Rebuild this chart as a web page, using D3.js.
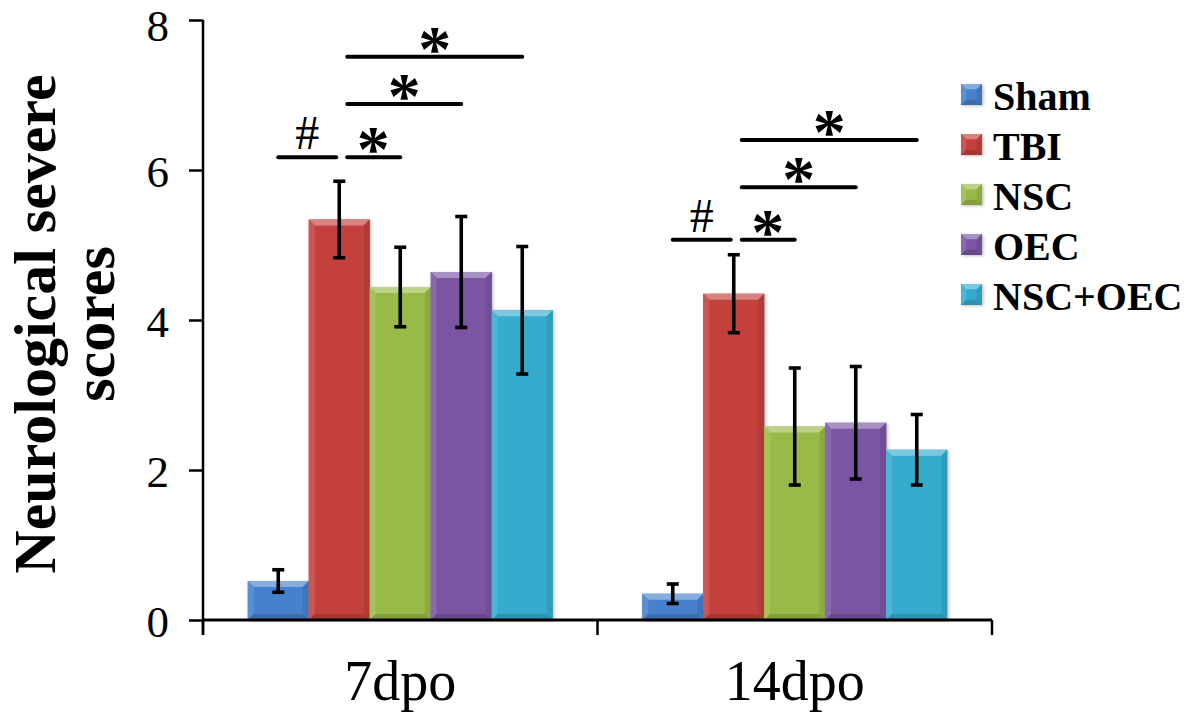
<!DOCTYPE html>
<html>
<head>
<meta charset="utf-8">
<script src="https://cdn.jsdelivr.net/npm/d3@7/dist/d3.min.js"></script>
<style>
  html, body { margin: 0; padding: 0; background: #fff; }
  svg { display: block; }
  text { font-family: "Liberation Serif", "Times New Roman", Tinos, serif; fill: #000; }
</style>
</head>
<body>
<svg id="chart" width="1200" height="715"></svg>
<script>
// ---------- data ----------
const categories = ["7dpo", "14dpo"];
const seriesNames = ["Sham", "TBI", "NSC", "OEC", "NSC+OEC"];
const seriesColors = ["#4680cc", "#c3403c", "#99ba48", "#7955a3", "#34abcd"];
// mean values per series, ordered as categories
const shamValues   = [0.52, 0.35];
const tbiValues    = [5.34, 4.35];
const nscValues    = [4.44, 2.58];
const oecValues    = [4.64, 2.63];
const comboValues  = [4.13, 2.27];
// error (SD) per series
const shamErrors   = [0.15, 0.13];
const tbiErrors    = [0.51, 0.52];
const nscErrors    = [0.53, 0.78];
const oecErrors    = [0.74, 0.75];
const comboErrors  = [0.85, 0.47];
const yTicks = [0, 2, 4, 6, 8];
// significance annotations: category, from series, to series, level (score units), symbol
const sigCategory = ["7dpo", "7dpo", "7dpo", "7dpo", "14dpo", "14dpo", "14dpo", "14dpo"];
const sigFrom     = ["Sham", "TBI", "TBI", "TBI", "Sham", "TBI", "TBI", "TBI"];
const sigTo       = ["TBI", "NSC", "OEC", "NSC+OEC", "TBI", "NSC", "OEC", "NSC+OEC"];
const sigLevel    = [6.17, 6.17, 6.88, 7.51, 5.07, 5.07, 5.77, 6.40];
const sigSymbol   = ["#", "*", "*", "*", "#", "*", "*", "*"];

const valueTable = [shamValues, tbiValues, nscValues, oecValues, comboValues];
const errorTable = [shamErrors, tbiErrors, nscErrors, oecErrors, comboErrors];

// ---------- layout ----------
const svg = d3.select("#chart");
const x0 = d3.scaleBand().domain(categories).range([203, 992]).paddingInner(0).paddingOuter(0);
const groupPad = (x0.bandwidth() - 305) / 2;
const x1 = d3.scaleBand().domain(seriesNames).range([groupPad, x0.bandwidth() - groupPad]).padding(0);
const y = d3.scaleLinear().domain([0, 8]).range([620, 20]);
const color = d3.scaleOrdinal().domain(seriesNames).range(seriesColors);

const defs = svg.append("defs");
const filt = defs.append("filter").attr("id", "shadow").attr("x", "-20%").attr("y", "-20%").attr("width", "140%").attr("height", "140%");
filt.append("feDropShadow").attr("dx", 1.5).attr("dy", 1).attr("stdDeviation", 1.5).attr("flood-color", "#000").attr("flood-opacity", 0.25);

function bevelRect(g, x, yTop, w, h, c) {
  const base = d3.color(c);
  const light = d3.interpolateRgb(c, "#ffffff")(0.35);
  const lightSide = d3.interpolateRgb(c, "#ffffff")(0.12);
  const dark = base.darker(0.45).formatHex();
  const darkSide = base.darker(0.25).formatHex();
  const b = Math.min(6, h / 2.5, w / 4);
  g.append("rect").attr("x", x).attr("y", yTop).attr("width", w).attr("height", h)
    .attr("fill", c).attr("filter", "url(#shadow)");
  g.append("path").attr("d", `M${x},${yTop}L${x + w},${yTop}L${x + w - b},${yTop + b}L${x + b},${yTop + b}Z`).attr("fill", light);
  g.append("path").attr("d", `M${x},${yTop}L${x + b},${yTop + b}L${x + b},${yTop + h - b}L${x},${yTop + h}Z`).attr("fill", lightSide);
  g.append("path").attr("d", `M${x + w},${yTop}L${x + w},${yTop + h}L${x + w - b},${yTop + h - b}L${x + w - b},${yTop + b}Z`).attr("fill", darkSide);
  g.append("path").attr("d", `M${x},${yTop + h}L${x + b},${yTop + h - b}L${x + w - b},${yTop + h - b}L${x + w},${yTop + h}Z`).attr("fill", dark);
}

// ---------- bars ----------
const barsG = svg.append("g");
categories.forEach((cat, ci) => {
  const g = barsG.append("g").attr("transform", `translate(${x0(cat)},0)`);
  seriesNames.forEach((s, si) => {
    const v = valueTable[si][ci];
    bevelRect(g, x1(s), y(v), x1.bandwidth(), y(0) - y(v), color(s));
  });
});

// ---------- error bars ----------
const errG = svg.append("g").attr("stroke", "#000").attr("stroke-width", 3.6).attr("fill", "none");
categories.forEach((cat, ci) => {
  seriesNames.forEach((s, si) => {
    const v = valueTable[si][ci], e = errorTable[si][ci];
    const cx = x0(cat) + x1(s) + x1.bandwidth() / 2;
    errG.append("line").attr("x1", cx).attr("x2", cx).attr("y1", y(v + e)).attr("y2", y(v - e));
    errG.append("line").attr("x1", cx - 6).attr("x2", cx + 6).attr("y1", y(v + e)).attr("y2", y(v + e));
    errG.append("line").attr("x1", cx - 6).attr("x2", cx + 6).attr("y1", y(v - e)).attr("y2", y(v - e));
  });
});

// ---------- axes ----------
const yAxis = d3.axisLeft(y).tickValues(yTicks).tickSize(14).tickPadding(20).tickFormat(d3.format("d"));
const yG = svg.append("g").attr("transform", "translate(203,0)").call(yAxis);
yG.select(".domain").remove();
yG.selectAll(".tick line").attr("stroke", "#000").attr("stroke-width", 2.5);
yG.selectAll(".tick text").attr("font-size", 45).attr("fill", "#000")
  .attr("dy", d => d === 8 ? "0.46em" : "0.36em");
svg.append("line").attr("x1", 203).attr("x2", 203).attr("y1", y(8)).attr("y2", 635)
  .attr("stroke", "#000").attr("stroke-width", 2.5);

svg.append("line").attr("x1", 203).attr("x2", 992).attr("y1", y(0)).attr("y2", y(0))
  .attr("stroke", "#000").attr("stroke-width", 3);
const sepG = svg.append("g");
[...categories.map(c => x0(c)), x0(categories[categories.length - 1]) + x0.bandwidth()].forEach(xv => {
  sepG.append("line").attr("x1", xv).attr("x2", xv).attr("y1", y(0)).attr("y2", 635)
    .attr("stroke", "#000").attr("stroke-width", 2.5);
});
svg.append("g").selectAll("text").data(categories).join("text")
  .attr("x", d => x0(d) + x0.bandwidth() / 2)
  .attr("y", 700)
  .attr("text-anchor", "middle")
  .attr("font-size", 56)
  .text(d => d);

// ---------- y title ----------
const yTitle = svg.append("text").attr("transform", "translate(55,324) rotate(-90)")
  .attr("text-anchor", "middle").attr("font-weight", "bold").attr("font-size", 60);
yTitle.append("tspan").attr("x", 0).attr("y", 0).text("Neurological severe");
yTitle.append("tspan").attr("x", 0).attr("y", 59).text("scores");

// ---------- significance ----------
const sigG = svg.append("g");
sigSymbol.forEach((sym, i) => {
  const cat = sigCategory[i];
  const cFrom = x0(cat) + x1(sigFrom[i]) + x1.bandwidth() / 2;
  const cTo = x0(cat) + x1(sigTo[i]) + x1.bandwidth() / 2;
  const xa = sym === "#" ? cFrom : cFrom + 8;
  const xb = sym === "#" ? cTo - 3 : cTo;
  const yl = y(sigLevel[i]);
  sigG.append("line").attr("x1", xa).attr("x2", xb).attr("y1", yl).attr("y2", yl)
    .attr("stroke", "#000").attr("stroke-width", 4).attr("stroke-linecap", "round");
  if (sym === "#") {
    sigG.append("text").attr("x", (xa + xb) / 2).attr("y", yl - 8)
      .attr("text-anchor", "middle").attr("font-size", 48).text("#");
  } else {
    const tx = (sigTo[i] === "NSC") ? xa + 26 : (xa + xb) / 2;
    sigG.append("text").attr("x", tx).attr("y", yl + 14)
      .attr("text-anchor", "middle").attr("font-size", 66).attr("font-weight", "bold").text("*");
  }
});

// ---------- legend ----------
const legend = svg.append("g").attr("transform", "translate(961,84)");
seriesNames.forEach((s, i) => {
  const g = legend.append("g").attr("transform", `translate(0,${i * 50})`);
  bevelRect(g, 0, 0, 21, 21, color(s));
  g.append("text").attr("x", 32).attr("y", 26).attr("font-size", 40).attr("font-weight", "bold").text(s);
});
</script>
</body>
</html>
